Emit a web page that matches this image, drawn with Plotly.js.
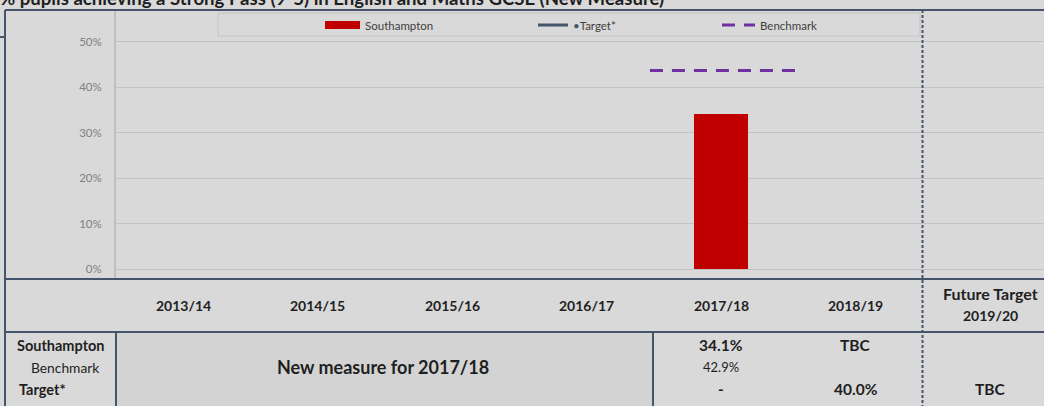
<!DOCTYPE html>
<html>
<head>
<meta charset="utf-8">
<script src="https://cdn.plot.ly/plotly-3.0.1.min.js"></script>
<style>
html,body{margin:0;padding:0;background:#d9d9d9;overflow:hidden;}
#chart{width:1044px;height:406px;}
</style>
</head>
<body>
<div id="chart"></div>
<script>
// ---- data ----
const categories = ['2013/14', '2014/15', '2015/16', '2016/17', '2017/18', '2018/19', 'Future Target<br>2019/20'];
const southampton = [null, null, null, null, 34.1, null, null];
const benchmark = [null, null, null, null, 43.7, null, null];
const target = [null, null, null, null, null, null, null];
const rowLabels = ['Southampton', 'Benchmark', 'Target*'];
const southamptonText = ['', '', '', '', '34.1%', 'TBC', ''];
const benchmarkText = ['', '', '', '', '42.9%', '', ''];
const targetText = ['', '', '', '', '-', '40.0%', 'TBC'];
const yTickVals = [0, 10, 20, 30, 40, 50];
const yTickText = ['0%', '10%', '20%', '30%', '40%', '50%'];
const newMeasureNote = 'New measure for 2017/18';
const titleText = '% pupils achieving a Strong Pass (9-5) in English and Maths GCSE (New Measure)';

// ---- geometry helpers (layout only) ----
const W = 1044, H = 406;
const M = {l: 116, r: 0, t: 10, b: 127};
const PW = W - M.l - M.r, PH = H - M.t - M.b;
const px = x => (x - M.l) / PW;          // pixel x -> paper x
const py = y => (H - M.b - y) / PH;      // pixel y -> paper y
const FONT = 'Lato, "Noto Sans", sans-serif';
const FRAME = '#44546a';
const TXT = '#1f1f1f';
const idx = categories.map((c, i) => i);

const traces = [];
traces.push({
  type: 'bar', x: idx, y: southampton, width: 0.4, name: 'Southampton',
  marker: {color: '#c00000'}, showlegend: false, hoverinfo: 'skip'
});
benchmark.forEach((v, i) => {
  if (v === null) return;
  traces.push({
    type: 'scatter', mode: 'lines', x: [i - 0.53, i + 0.55], y: [v, v],
    line: {color: '#7030a0', width: 3, dash: '13px,9px'}, showlegend: false, hoverinfo: 'skip'
  });
});
traces.push({
  type: 'scatter', mode: 'lines', x: idx, y: target, name: 'Target',
  line: {color: FRAME, width: 3}, showlegend: false, hoverinfo: 'skip'
});
// legend entries
traces.push({type: 'scatter', mode: 'lines', x: [null], y: [null], name: 'Southampton',
  line: {color: '#c00000', width: 8}, legend: 'legend', hoverinfo: 'skip'});
traces.push({type: 'scatter', mode: 'lines', x: [null], y: [null],
  name: '<span style="color:#44546a">•</span>Target*',
  line: {color: FRAME, width: 3}, legend: 'legend2', hoverinfo: 'skip'});
traces.push({type: 'scatter', mode: 'lines', x: [null], y: [null], name: 'Benchmark',
  line: {color: '#7030a0', width: 3, dash: '13px,9px'}, legend: 'legend3', hoverinfo: 'skip'});

const legendBase = {
  orientation: 'h', xref: 'paper', yref: 'paper', xanchor: 'left', yanchor: 'middle',
  bgcolor: 'rgba(0,0,0,0)', borderwidth: 0, font: {family: FONT, size: 11.5, color: '#404040'}
};

const shapes = [];
const line = (x0, y0, x1, y1, extra) => shapes.push(Object.assign({
  type: 'line', xref: 'paper', yref: 'paper', x0: px(x0), y0: py(y0), x1: px(x1), y1: py(y1),
  line: {color: FRAME, width: 2}, layer: 'above'
}, extra || {}));
shapes.push({type: 'rect', xref: 'paper', yref: 'paper', x0: px(116), x1: px(653), y0: py(332), y1: py(410),
  fillcolor: '#d3d3d3', line: {width: 0}, layer: 'below'});
shapes.push({type: 'rect', xref: 'paper', yref: 'paper', x0: px(218), x1: px(920), y0: py(13), y1: py(36),
  fillcolor: 'rgba(0,0,0,0)', line: {color: '#c4c4c4', width: 1}, layer: 'above'});
line(5, 10, W, 10);
line(5, 10, 5, H + 2);
line(0, 37, 6, 37);
line(5, 279, W, 279);
line(5, 332, W, 332);
line(116, 332, 116, H + 2);
line(653, 332, 653, H + 2);
line(922.5, 10, 922.5, H + 2, {line: {color: FRAME, width: 2, dash: '3px,2px'}});

const annotations = [];
const F = (size, bold) => ({family: FONT, size: size, color: TXT, weight: bold ? 'bold' : 'normal'});
const ann = (o) => annotations.push(Object.assign({showarrow: false, xanchor: 'center', yanchor: 'middle',
  font: F(15.5, true)}, o));
// header
categories.forEach((c, i) => {
  const parts = c.split('<br>');
  if (parts.length === 1) {
    ann({xref: 'x', yref: 'paper', x: i, y: py(305), text: c, font: F(14, true)});
  } else {
    ann({xref: 'x', yref: 'paper', x: i, y: py(293), text: parts[0], font: F(16, true)});
    ann({xref: 'x', yref: 'paper', x: i, y: py(316), text: parts[1], font: F(14, true)});
  }
});
// row labels
ann({xref: 'paper', yref: 'paper', x: px(61), y: py(345), text: rowLabels[0], font: F(14.5, true)});
ann({xref: 'paper', yref: 'paper', x: px(29), y: py(367), text: rowLabels[1], xanchor: 'left', font: F(13.8, false)});
ann({xref: 'paper', yref: 'paper', x: px(17), y: py(389), text: rowLabels[2], xanchor: 'left', font: F(14.5, true)});
// values
southamptonText.forEach((t, i) => { if (t) ann({xref: 'x', yref: 'paper', x: i, y: py(345), text: t}); });
benchmarkText.forEach((t, i) => { if (t) ann({xref: 'x', yref: 'paper', x: i, y: py(367), text: t, font: F(13, false)}); });
targetText.forEach((t, i) => { if (t) ann({xref: 'x', yref: 'paper', x: i, y: py(389), text: t}); });
ann({xref: 'paper', yref: 'paper', x: px(383), y: py(367), text: newMeasureNote, font: F(18, true)});

const layout = {
  width: W, height: H, margin: M,
  paper_bgcolor: '#d9d9d9', plot_bgcolor: '#d9d9d9',
  title: {text: titleText, xref: 'container', yref: 'paper', x: 0, xanchor: 'left',
          y: 1, yanchor: 'bottom', pad: {l: 0, t: 0, b: 5, r: 0}, automargin: false,
          font: {family: FONT, size: 18.6, color: TXT, weight: 'bold'}},
  xaxis: {range: [-0.5, 6.4], showticklabels: false, showgrid: false, zeroline: false, showline: false, fixedrange: true},
  yaxis: {range: [-2.2, 57], tickvals: yTickVals, ticktext: yTickText, showgrid: true, gridcolor: '#c2c2c2', gridwidth: 1,
          zeroline: false, showline: true, linecolor: '#bfbfbf', linewidth: 2, ticks: 'outside', ticklen: 10,
          tickcolor: 'rgba(0,0,0,0)', tickfont: {family: FONT, size: 11.5, color: '#808080'}, fixedrange: true},
  legend: Object.assign({}, legendBase, {x: px(320), y: py(25), itemwidth: 35}),
  legend2: Object.assign({}, legendBase, {x: px(533), y: py(25), itemwidth: 30}),
  legend3: Object.assign({}, legendBase, {x: px(717), y: py(25), itemwidth: 33}),
  shapes: shapes, annotations: annotations, bargap: 0
};

Plotly.newPlot('chart', traces, layout, {displayModeBar: false, staticPlot: true});
</script>
</body>
</html>
